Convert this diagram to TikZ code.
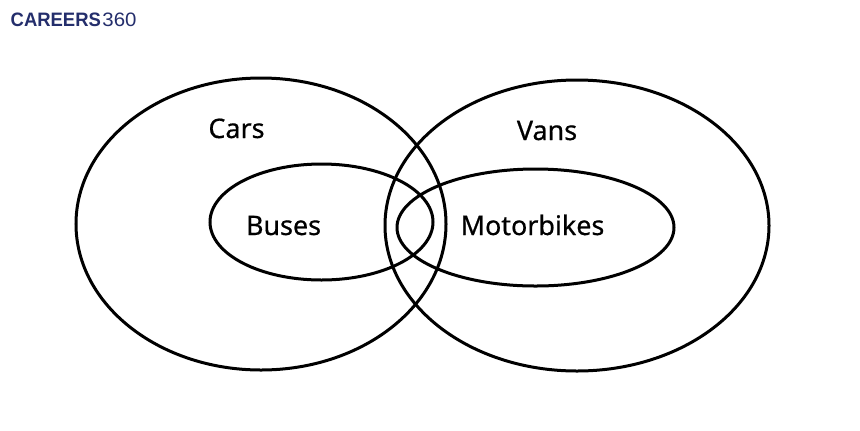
\documentclass[tikz,border=0pt]{standalone}
\usepackage{graphicx}
\usepackage{fontspec}
\setmainfont{Noto Sans}
\newfontfamily\labelfont[FakeBold=0.6]{Noto Sans}
\newfontfamily\logofont{Liberation Sans}
\definecolor{crnavy}{RGB}{36,46,108}
\usetikzlibrary{shapes.geometric}

\begin{document}
\begin{tikzpicture}[x=1bp,y=-1bp,
  vennset/.style={draw,ellipse,line width=3bp,inner sep=0pt},
  setlabel/.style={anchor=base,inner sep=0pt,font=\labelfont\fontsize{27}{31}\selectfont}
]
  \useasboundingbox[fill=white] (0,0) rectangle (860,430);
  % logo
  \node[anchor=base west,inner sep=0pt,text=crnavy] (logo) at (10.5,26.7)
    {\logofont\scalebox{0.95}[1]{\fontsize{19.5}{22}\selectfont\bfseries CAREERS}\hspace{1.5bp}%
     \scalebox{1.05}[1]{\fontsize{19.5}{22}\selectfont 360}};
  % outer sets
  \node[vennset,minimum width=370bp,minimum height=292bp] (cars) at (261,224) {};
  \node[vennset,minimum width=384bp,minimum height=291bp] (vans) at (577,225.5) {};
  % inner sets
  \node[vennset,minimum width=223bp,minimum height=116bp] (buses) at (321.5,222) {};
  \node[vennset,minimum width=277bp,minimum height=117bp] (motorbikes) at (535.5,227.5) {};
  % labels
  \node[setlabel] (carslabel) at (236.5,138) {Cars};
  \node[setlabel] (vanslabel) at (547,140) {Vans};
  \node[setlabel] (buseslabel) at (283.5,235) {Buses};
  \node[setlabel] (motorbikeslabel) at (532.5,235) {Motorbikes};
\end{tikzpicture}
\end{document}
